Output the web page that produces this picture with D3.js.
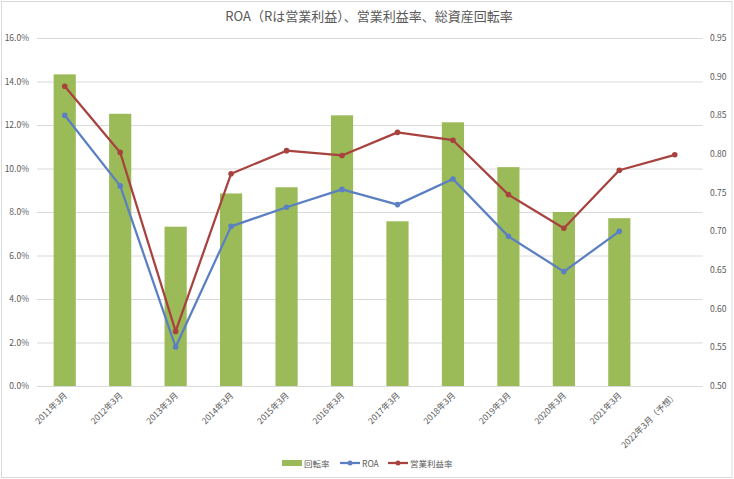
<!DOCTYPE html>
<html>
<head>
<meta charset="utf-8">
<script src="https://cdn.jsdelivr.net/npm/d3@7"></script>
<style>
  body { margin: 0; background: #fff; }
  svg { font-family: "Noto Sans CJK JP", "Noto Sans", sans-serif; }
</style>
</head>
<body>
<div id="chart"></div>
<script>
// Data
const categories = ['2011年3月', '2012年3月', '2013年3月', '2014年3月', '2015年3月', '2016年3月',
    '2017年3月', '2018年3月', '2019年3月', '2020年3月', '2021年3月', '2022年3月（予想）'];
const turnover = [0.903, 0.852, 0.706, 0.749, 0.757, 0.850, 0.713, 0.841, 0.783, 0.725, 0.717, null];
const roa = [12.45, 9.2, 1.79, 7.34, 8.22, 9.04, 8.34, 9.52, 6.88, 5.26, 7.11, null];
const opMargin = [13.78, 10.74, 2.51, 9.76, 10.82, 10.6, 11.66, 11.3, 8.8, 7.25, 9.92, 10.63];
const leftTicks = [0, 2, 4, 6, 8, 10, 12, 14, 16];
const rightTicks = [0.50, 0.55, 0.60, 0.65, 0.70, 0.75, 0.80, 0.85, 0.90, 0.95];

const W = 734, H = 479;
const plot = { left: 37, right: 702.5, top: 38, bottom: 386 };

const svg = d3.select('#chart').append('svg')
    .attr('width', W)
    .attr('height', H);

// Chart border
svg.append('rect')
    .attr('x', 1.5).attr('y', 1.5)
    .attr('width', W - 3.5).attr('height', H - 3)
    .attr('fill', '#fff')
    .attr('stroke', '#d9d9d9');

// Scales
const x = d3.scaleBand()
    .domain(categories)
    .range([plot.left, plot.right]);

const yL = d3.scaleLinear().domain([0, 16]).range([plot.bottom, plot.top]);
const yR = d3.scaleLinear().domain([0.5, 0.95]).range([plot.bottom, plot.top]);

// Title
svg.append('text')
    .attr('x', W / 2 + 2)
    .attr('y', 21)
    .attr('text-anchor', 'middle')
    .style('fill', '#595959')
    .style('font-size', '13px')
    .text('ROA（Rは営業利益）、営業利益率、総資産回転率');

// Grid lines
svg.append('g')
    .selectAll('line')
    .data(leftTicks)
    .enter()
    .append('line')
    .attr('x1', plot.left)
    .attr('x2', plot.right)
    .attr('y1', d => yL(d) + 0.5)
    .attr('y2', d => yL(d) + 0.5)
    .attr('stroke', '#d9d9d9')
    .attr('stroke-width', 1);

// Left axis labels
svg.append('g')
    .selectAll('text')
    .data(leftTicks)
    .enter()
    .append('text')
    .attr('x', 29)
    .attr('y', d => yL(d) + 3)
    .attr('text-anchor', 'end')
    .style('fill', '#595959')
    .style('font-size', '8.5px')
    .text(d => d.toFixed(1) + '%');

// Right axis labels
svg.append('g')
    .selectAll('text')
    .data(rightTicks)
    .enter()
    .append('text')
    .attr('x', 710)
    .attr('y', d => yR(d) + 3)
    .attr('text-anchor', 'start')
    .style('fill', '#595959')
    .style('font-size', '8.5px')
    .text(d => d.toFixed(2));

// Bars (回転率, right axis)
const barW = x.bandwidth() / 2.5;
svg.append('g')
    .selectAll('rect')
    .data(categories.map((c, i) => ({ c, v: turnover[i] })).filter(d => d.v != null))
    .enter()
    .append('rect')
    .attr('x', d => x(d.c) + (x.bandwidth() - barW) / 2)
    .attr('y', d => yR(d.v))
    .attr('width', barW)
    .attr('height', d => plot.bottom - yR(d.v))
    .attr('fill', '#9bbb59');

// Axis baseline
svg.append('line')
    .attr('x1', plot.left).attr('x2', plot.right)
    .attr('y1', plot.bottom + 0.5).attr('y2', plot.bottom + 0.5)
    .attr('stroke', '#d9d9d9');

// X labels, rotated
svg.append('g')
    .selectAll('text')
    .data(categories)
    .enter()
    .append('text')
    .attr('transform', d => `translate(${x(d) + x.bandwidth() / 2 + 3},${plot.bottom + 10}) rotate(-45)`)
    .attr('text-anchor', 'end')
    .style('fill', '#595959')
    .style('font-size', '8.5px')
    .text(d => d);

// Lines
const lineSeries = [
    { name: 'ROA', values: roa, color: '#5b7fc3' },
    { name: '営業利益率', values: opMargin, color: '#a8423f' }
];

const line = d3.line()
    .defined(d => d.v != null)
    .x(d => x(d.c) + x.bandwidth() / 2)
    .y(d => yL(d.v));

lineSeries.forEach(s => {
    const pts = categories.map((c, i) => ({ c, v: s.values[i] }));
    svg.append('path')
        .datum(pts)
        .attr('fill', 'none')
        .attr('stroke', s.color)
        .attr('stroke-width', 2.25)
        .attr('stroke-linejoin', 'round')
        .attr('d', line);

    svg.append('g')
        .selectAll('circle')
        .data(pts.filter(d => d.v != null))
        .enter()
        .append('circle')
        .attr('cx', d => x(d.c) + x.bandwidth() / 2)
        .attr('cy', d => yL(d.v))
        .attr('r', 2.8)
        .attr('fill', s.color);
});

// Legend
const legend = svg.append('g').attr('transform', 'translate(0,463)');
legend.append('rect')
    .attr('x', 282).attr('y', -3)
    .attr('width', 20).attr('height', 6)
    .attr('fill', '#9bbb59');
legend.append('text')
    .attr('x', 304).attr('y', 3.5)
    .style('fill', '#595959').style('font-size', '8.5px')
    .text('回転率');

const legendLines = [
    { x0: 340, tx: 362, s: lineSeries[0] },
    { x0: 388, tx: 410, s: lineSeries[1] }
];
legendLines.forEach(l => {
    legend.append('line')
        .attr('x1', l.x0).attr('x2', l.x0 + 20)
        .attr('y1', 0).attr('y2', 0)
        .attr('stroke', l.s.color)
        .attr('stroke-width', 2.25);
    legend.append('circle')
        .attr('cx', l.x0 + 10).attr('cy', 0)
        .attr('r', 2.5)
        .attr('fill', l.s.color);
    legend.append('text')
        .attr('x', l.tx).attr('y', 3.5)
        .style('fill', '#595959').style('font-size', '8.5px')
        .text(l.s.name);
});
</script>
</body>
</html>
